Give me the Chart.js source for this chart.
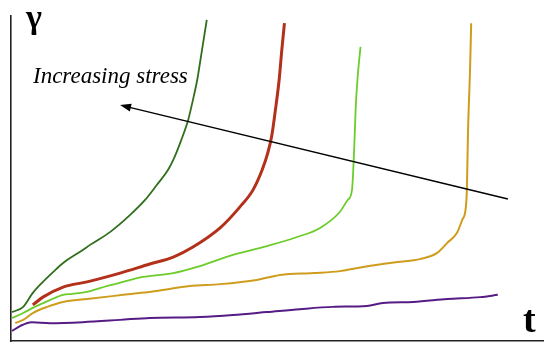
<!DOCTYPE html>
<html>
<head>
<meta charset="utf-8">
<script src="https://cdn.jsdelivr.net/npm/chart.js@4.4.0/dist/chart.umd.min.js"></script>
<style>
  html, body { margin: 0; padding: 0; background: #fff; }
  #wrap { width: 550px; height: 355px; }
</style>
</head>
<body>
<div id="wrap"><canvas id="c" width="550" height="355"></canvas></div>
<script>
// Creep curves: strain (gamma) vs time (t), arbitrary units 0..100
const darkGreenT = [0.2, 2.3, 4.1, 6.0, 7.9, 9.8, 13.5, 14.8, 18.6, 22.4, 25.2, 27.4, 29.5, 30.5, 32.0, 33.3, 34.2, 35.0, 35.9, 36.8];
const darkGreenG = [8.9, 10.5, 14.8, 18.2, 21.2, 24.0, 28.0, 29.5, 33.5, 38.8, 43.4, 48.0, 52.6, 55.7, 61.8, 68.0, 74.2, 80.3, 89.5, 98.8];

const redT = [4.1, 6.0, 9.8, 14.3, 20.5, 26.1, 30.5, 34.2, 39.3, 43.0, 45.5, 47.2, 48.2, 49.0, 49.7, 50.4, 50.9, 51.4];
const redG = [11.1, 13.5, 16.6, 18.2, 20.9, 23.7, 25.8, 28.9, 34.8, 41.2, 46.5, 52.6, 57.5, 63.0, 71.1, 80.3, 89.5, 97.8];

const lightGreenT = [0.2, 2.3, 4.1, 7.3, 9.8, 11.5, 14.3, 16.7, 21.1, 24.8, 30.5, 35.0, 39.3, 41.7, 48.1, 53.8, 58.1, 61.8, 63.3, 64.1, 64.5, 64.8, 65.2, 65.7];
const lightGreenG = [7.1, 8.6, 10.2, 12.6, 14.2, 14.5, 15.1, 16.3, 18.2, 19.7, 20.9, 22.8, 25.2, 26.5, 29.2, 32.0, 34.8, 39.7, 43.4, 46.5, 58.8, 72.0, 82.0, 90.5];

const orangeT = [0.8, 2.3, 4.1, 6.8, 9.8, 14.3, 21.1, 27.4, 33.6, 39.3, 46.2, 50.6, 56.8, 61.8, 66.2, 72.6, 76.9, 80.1, 82.0, 83.8, 84.8, 85.5, 85.7, 85.9, 86.3, 86.5];
const orangeG = [5.5, 6.5, 8.6, 10.5, 12.0, 12.9, 14.2, 15.4, 16.9, 17.5, 18.8, 20.3, 20.9, 21.5, 22.8, 24.3, 25.2, 27.1, 30.2, 33.2, 37.2, 41.2, 47.1, 64.0, 84.3, 97.8];

const purpleT = [0.2, 1.7, 3.9, 7.3, 13.5, 20.5, 26.1, 35.5, 41.7, 48.1, 54.3, 60.5, 66.9, 69.9, 75.6, 82.0, 88.2, 91.5];
const purpleG = [3.1, 4.6, 5.8, 5.5, 5.8, 6.5, 7.1, 7.4, 8.0, 8.9, 9.8, 10.5, 10.8, 11.7, 12.0, 12.9, 13.5, 14.2];

// Arrow "Increasing stress" (data coords)
const arrowStart = [93.4, 43.7];
const arrowEnd = [20.5, 72.6];

const labelStress = "Increasing stress";
const labelY = "γ";
const labelX = "t";

function pts(ts, gs) { return ts.map((t, i) => ({ x: t, y: gs[i] })); }

const overlay = {
  id: 'overlay',
  afterDatasetsDraw(chart) {
    const ctx = chart.ctx;
    const xs = chart.scales.x, ys = chart.scales.y;
    const x1 = xs.getPixelForValue(arrowStart[0]), y1 = ys.getPixelForValue(arrowStart[1]);
    const x2 = xs.getPixelForValue(arrowEnd[0]), y2 = ys.getPixelForValue(arrowEnd[1]);
    const ang = Math.atan2(y2 - y1, x2 - x1);
    const headLen = 11, headW = 4;
    ctx.save();
    ctx.strokeStyle = '#000';
    ctx.fillStyle = '#000';
    ctx.lineWidth = 1.5;
    ctx.beginPath();
    ctx.moveTo(x1, y1);
    ctx.lineTo(x2 - Math.cos(ang) * headLen * 0.8, y2 - Math.sin(ang) * headLen * 0.8);
    ctx.stroke();
    ctx.beginPath();
    ctx.moveTo(x2, y2);
    ctx.lineTo(x2 - Math.cos(ang) * headLen - Math.sin(ang) * headW, y2 - Math.sin(ang) * headLen + Math.cos(ang) * headW);
    ctx.lineTo(x2 - Math.cos(ang) * headLen + Math.sin(ang) * headW, y2 - Math.sin(ang) * headLen - Math.cos(ang) * headW);
    ctx.closePath();
    ctx.fill();

    ctx.fillStyle = '#000';
    ctx.textBaseline = 'alphabetic';
    ctx.textAlign = 'left';
    ctx.font = 'italic 23px "Liberation Serif", "Times New Roman", serif';
    ctx.fillText(labelStress, 33, 83);
    ctx.font = 'bold 34px "Liberation Serif", "Times New Roman", serif';
    ctx.fillText(labelY, 26, 28);
    ctx.font = 'bold 38px "Liberation Serif", "Times New Roman", serif';
    ctx.fillText(labelX, 523, 332);
    ctx.restore();
  }
};

const common = { showLine: true, pointRadius: 0, pointHoverRadius: 0, fill: false, cubicInterpolationMode: 'monotone' };

new Chart(document.getElementById('c'), {
  type: 'scatter',
  data: {
    datasets: [
      Object.assign({ label: 'dark green', data: pts(darkGreenT, darkGreenG), borderColor: '#2f6f1c', borderWidth: 1.8 }, common),
      Object.assign({ label: 'red', data: pts(redT, redG), borderColor: '#b3301a', borderWidth: 3 }, common),
      Object.assign({ label: 'light green', data: pts(lightGreenT, lightGreenG), borderColor: '#6ccc2a', borderWidth: 1.8 }, common),
      Object.assign({ label: 'orange', data: pts(orangeT, orangeG), borderColor: '#cf9d1e', borderWidth: 2 }, common),
      Object.assign({ label: 'purple', data: pts(purpleT, purpleG), borderColor: '#551c86', borderWidth: 2 }, common)
    ]
  },
  options: {
    responsive: false,
    animation: false,
    layout: { padding: { left: 11, right: 7, top: 16, bottom: 14 } },
    plugins: { legend: { display: false }, tooltip: { enabled: false } },
    scales: {
      x: {
        type: 'linear', min: 0, max: 100,
        grid: { display: false, drawTicks: false },
        ticks: { display: false },
        border: { display: true, color: '#222', width: 1.6 }
      },
      y: {
        type: 'linear', min: 0, max: 100,
        grid: { display: false, drawTicks: false },
        ticks: { display: false },
        border: { display: true, color: '#222', width: 1.6 }
      }
    }
  },
  plugins: [overlay]
});
</script>
</body>
</html>
